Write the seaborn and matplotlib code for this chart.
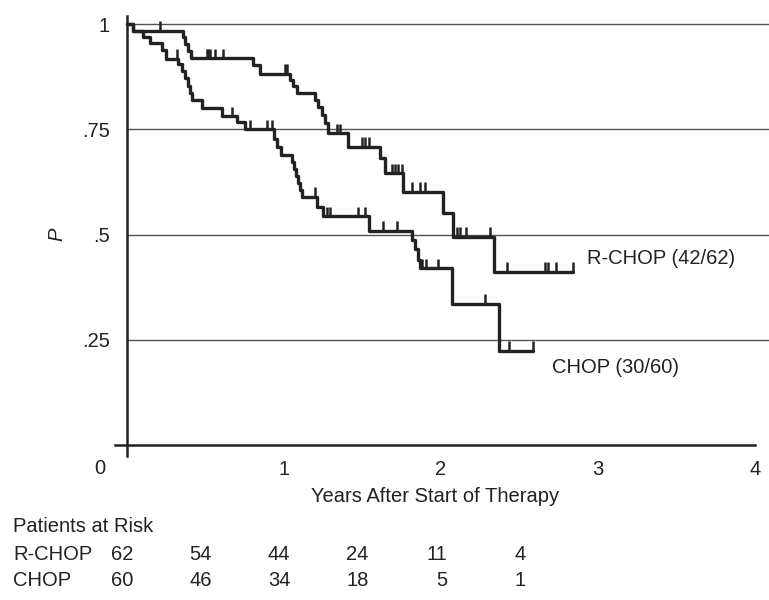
import numpy as np
import pandas as pd
import matplotlib
matplotlib.use("Agg")
import matplotlib.pyplot as plt
import matplotlib.transforms as mtransforms
from matplotlib.ticker import FixedLocator
import seaborn as sns

sns.set_style("white")
plt.rcParams['font.family'] = ['Liberation Sans', 'DejaVu Sans']
FS = 14.5

# Kaplan-Meier steps (years, survival after the drop)
rchop_t = [0.038, 0.357, 0.369, 0.389, 0.408, 0.803, 0.847, 1.038, 1.057, 1.083, 1.197,
           1.217, 1.242, 1.261, 1.280, 1.408, 1.611, 1.643, 1.758, 2.013, 2.076, 2.338]
rchop_s = [0.984, 0.968, 0.952, 0.935, 0.919, 0.903, 0.882, 0.867, 0.852, 0.837, 0.820,
           0.804, 0.784, 0.765, 0.741, 0.709, 0.681, 0.645, 0.602, 0.551, 0.495, 0.412]
rchop_end = 2.841
rchop_cens = [0.21, 0.51, 0.516, 0.529, 0.561, 0.611, 1.006, 1.019, 1.338, 1.357, 1.497,
              1.516, 1.541, 1.688, 1.707, 1.726, 1.752, 1.815, 1.866, 1.898, 2.102, 2.121,
              2.159, 2.312, 2.42, 2.662, 2.682, 2.732, 2.841]

chop_t = [0.038, 0.102, 0.146, 0.223, 0.248, 0.325, 0.350, 0.369, 0.389, 0.401, 0.414,
          0.478, 0.605, 0.701, 0.752, 0.936, 0.955, 0.981, 1.051, 1.064, 1.076, 1.089,
          1.102, 1.115, 1.210, 1.248, 1.541, 1.815, 1.834, 1.854, 1.866, 2.070, 2.369]
chop_s = [0.984, 0.970, 0.954, 0.938, 0.918, 0.906, 0.889, 0.871, 0.853, 0.836, 0.819,
          0.800, 0.782, 0.768, 0.750, 0.728, 0.708, 0.689, 0.672, 0.655, 0.639, 0.622,
          0.606, 0.590, 0.565, 0.544, 0.509, 0.487, 0.465, 0.440, 0.420, 0.336, 0.224]
chop_end = 2.586
chop_cens = [0.318, 0.669, 0.783, 0.892, 0.924, 1.197, 1.274, 1.293, 1.471, 1.516, 1.631,
             1.72, 1.879, 1.904, 1.981, 2.28, 2.433, 2.586]

risk_times = [0, 0.5, 1, 1.5, 2, 2.5]
rchop_risk = [62, 54, 44, 24, 11, 4]
chop_risk = [60, 46, 34, 18, 5, 1]


def km_frame(name, t, s, end):
    tt = [0.0] + list(t) + [end]
    ss = [1.0] + list(s) + [s[-1]]
    return pd.DataFrame({'arm': name, 'time': tt, 'surv': ss})


def level_at(t, s, x):
    idx = np.searchsorted(np.array(t), np.array(x), side='right')
    lev = np.concatenate([[1.0], s])
    return lev[idx]


df = pd.concat([km_frame('R-CHOP', rchop_t, rchop_s, rchop_end),
                km_frame('CHOP', chop_t, chop_s, chop_end)], ignore_index=True)

fig = plt.figure(figsize=(7.69, 6.0), dpi=100)
ax = fig.add_axes([0.1488, 0.2373, 0.8514, 0.7367])
ax.set_xlim(-0.08, 4.09)
ax.set_ylim(-0.03, 1.02)

# horizontal reference lines
for g in [0.25, 0.5, 0.75, 1.0]:
    ax.plot([0, 4.09], [g, g], color='#555555', lw=1.0, zorder=1)

sns.lineplot(data=df, x='time', y='surv', hue='arm', palette=['#222222', '#222222'],
             estimator=None, drawstyle='steps-post', linewidth=2.4, legend=False,
             ax=ax, zorder=3)

# censor marks
for t, s, c in [(rchop_t, rchop_s, rchop_cens), (chop_t, chop_s, chop_cens)]:
    lv = level_at(t, s, c)
    ax.vlines(c, lv, lv + 0.022, color='#222222', lw=1.8, zorder=3)

# axes
for side in ['top', 'right']:
    ax.spines[side].set_visible(False)
ax.spines['left'].set_position(('data', 0))
ax.spines['bottom'].set_position(('data', 0))
ax.spines['left'].set_bounds(-0.025, 1.02)
ax.spines['bottom'].set_bounds(-0.075, 4.0)
for side in ['left', 'bottom']:
    ax.spines[side].set_linewidth(1.8)
    ax.spines[side].set_color('#222222')

ax.set_yticks([0.25, 0.5, 0.75, 1.0])
ax.set_yticklabels(['.25', '.5', '.75', '1'])
ax.yaxis.set_minor_locator(FixedLocator([v for v in np.arange(0.05, 1.0, 0.05)
                                         if abs(v / 0.25 - round(v / 0.25)) > 1e-6]))
ax.set_xticks([0, 1, 2, 3, 4])
ax.set_xticklabels(['', '1', '2', '3', '4'])
ax.xaxis.set_minor_locator(FixedLocator([v for v in np.arange(0.25, 4.0, 0.25)
                                         if abs(v - round(v)) > 1e-6]))
ax.tick_params(axis='both', which='major', direction='out', length=6.5, width=1.6,
               color='#222222', labelsize=FS, labelcolor='#222222')
ax.tick_params(axis='both', which='minor', direction='out', length=3.5, width=1.4,
               color='#222222')
ax.tick_params(axis='y', which='major', pad=6)
ax.tick_params(axis='x', which='major', pad=4)
ax.set_xlabel('')
ax.set_ylabel('')

ax.text(-0.17, -0.055, '0', fontsize=FS, color='#222222', ha='center', va='center')

ax.text(2.93, 0.444, 'R-CHOP (42/62)', fontsize=FS, color='#222222', va='center')
ax.text(2.707, 0.185, 'CHOP (30/60)', fontsize=FS, color='#222222', va='center')

fig.text(435 / 769, 1 - 497 / 600, 'Years After Start of Therapy', fontsize=FS,
         color='#222222', ha='center', va='center')
fig.text(57 / 769, 1 - 234 / 600, 'P', fontsize=FS, color='#222222', style='italic',
         rotation=90, ha='center', va='center')

# patients at risk
fig.text(13 / 769, 1 - 527 / 600, 'Patients at Risk', fontsize=FS, color='#222222',
         ha='left', va='center')
trans = mtransforms.blended_transform_factory(ax.transData, fig.transFigure)
for label, counts, yy in [('R-CHOP', rchop_risk, 554), ('CHOP', chop_risk, 580)]:
    fig.text(13 / 769, 1 - yy / 600, label, fontsize=FS, color='#222222',
             ha='left', va='center')
    for x, n in zip(risk_times, counts):
        ax.text(x + 0.04, 1 - yy / 600, str(n), transform=trans, fontsize=FS,
                color='#222222', ha='right', va='center', clip_on=False)

fig.savefig('out.png', dpi=100, facecolor='white')
